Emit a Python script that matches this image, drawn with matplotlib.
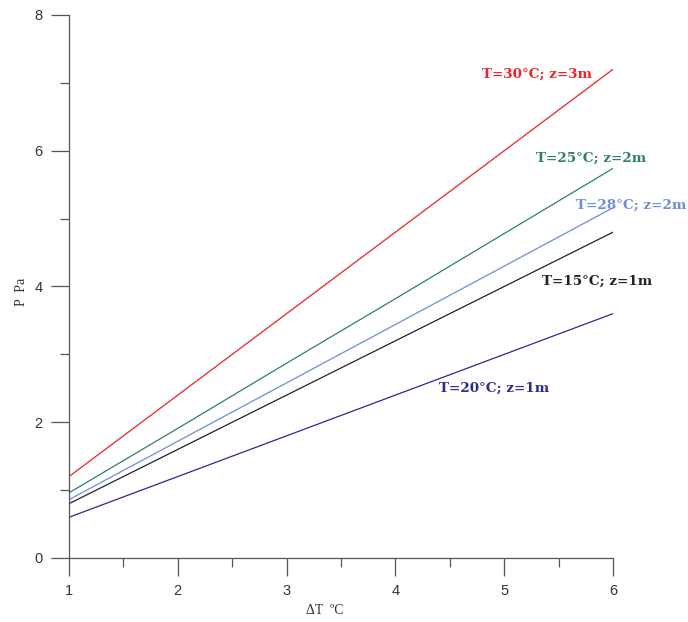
import matplotlib
matplotlib.use("Agg")
import matplotlib.pyplot as plt
from matplotlib.ticker import MultipleLocator

dT = [1, 2, 3, 4, 5, 6]
p_30_3 = [1.2, 2.4, 3.6, 4.8, 6.0, 7.2]
p_25_2 = [0.96, 1.91, 2.87, 3.82, 4.78, 5.74]
p_28_2 = [0.86, 1.72, 2.58, 3.44, 4.30, 5.16]
p_15_1 = [0.8, 1.6, 2.4, 3.2, 4.0, 4.8]
p_20_1 = [0.6, 1.2, 1.8, 2.4, 3.0, 3.6]

series = [
    (p_30_3, "#ee2028", "T=30°C; z=3m", 5.30, 7.12),
    (p_25_2, "#2f7f6c", "T=25°C; z=2m", 5.80, 5.89),
    (p_28_2, "#6b8fd2", "T=28°C; z=2m", 6.17, 5.19),
    (p_15_1, "#222222", "T=15°C; z=1m", 5.85, 4.08),
    (p_20_1, "#2b2b8e", "T=20°C; z=1m", 4.91, 2.50),
]

fig = plt.figure(figsize=(6.88, 6.22), dpi=100)
ax = fig.add_axes([0.1003, 0.1029, 0.7907, 0.873])

for vals, col, lab, tx, ty in series:
    ax.plot(dT, vals, color=col, lw=0.9)
    ax.text(tx, ty, lab, color=col, fontsize=9.7, fontweight="bold",
            family="DejaVu Serif", ha="center", va="center")

ax.set_xlim(1, 6)
ax.set_ylim(0, 8)
ax.xaxis.set_major_locator(MultipleLocator(1))
ax.xaxis.set_minor_locator(MultipleLocator(0.5))
ax.yaxis.set_major_locator(MultipleLocator(2))
ax.yaxis.set_minor_locator(MultipleLocator(1))
for s in ["top", "right"]:
    ax.spines[s].set_visible(False)
for s in ["left", "bottom"]:
    ax.spines[s].set_color("#555555")
    ax.spines[s].set_linewidth(0.9)
ax.tick_params(which="major", direction="out", length=13, width=0.9,
               color="#555555", labelsize=10.5, labelcolor="#333333", pad=6)
ax.tick_params(which="minor", direction="out", length=6.5, width=0.9,
               color="#555555")
for lbl in ax.get_xticklabels() + ax.get_yticklabels():
    lbl.set_family("Liberation Sans")

ax.set_xlabel("ΔT  ºC", family="Liberation Serif", fontsize=10, color="#333333")
ax.set_ylabel("P  Pa", family="Liberation Serif", fontsize=10, color="#333333")
ax.xaxis.set_label_coords(0.47, -0.085)
ax.yaxis.set_label_coords(-0.075, 0.49)

fig.savefig("out.png", dpi=100)
